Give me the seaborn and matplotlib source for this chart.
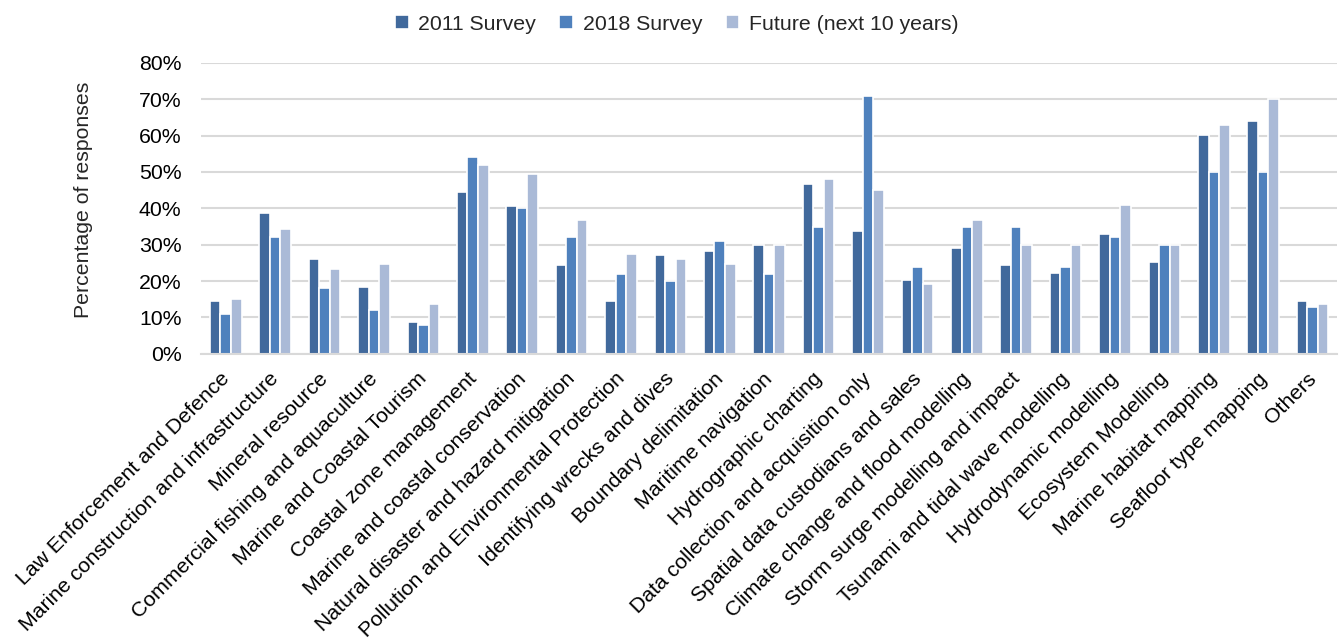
import numpy as np
import pandas as pd
import seaborn as sns
import matplotlib.pyplot as plt
import matplotlib.transforms as mtransforms
from matplotlib.ticker import PercentFormatter

categories = ['Law Enforcement and Defence', 'Marine construction and infrastructure',
              'Mineral resource', 'Commercial fishing and aquaculture',
              'Marine and Coastal Tourism', 'Coastal zone management',
              'Marine and coastal conservation', 'Natural disaster and hazard mitigation',
              'Pollution and Environmental Protection', 'Identifying wrecks and dives',
              'Boundary delimitation', 'Maritime navigation', 'Hydrographic charting',
              'Data collection and acquisition only', 'Spatial data custodians and sales',
              'Climate change and flood modelling', 'Storm surge modelling and impact',
              'Tsunami and tidal wave modelling', 'Hydrodynamic modelling',
              'Ecosystem Modelling', 'Marine habitat mapping', 'Seafloor type mapping',
              'Others']
survey_2011 = [14.5, 38.8, 26.2, 18.4, 8.7, 44.6, 40.7, 24.3, 14.5, 27.2, 28.2, 30.0,
               46.6, 33.9, 20.4, 29.1, 24.3, 22.3, 33.0, 25.2, 60.2, 64.0, 14.5]
survey_2018 = [11, 32, 18, 12, 8, 54, 40, 32, 22, 20, 31, 22,
               35, 71, 24, 35, 35, 24, 32, 30, 50, 50, 13]
future = [15.0, 34.2, 23.3, 24.6, 13.7, 52.0, 49.3, 36.9, 27.4, 26.0, 24.6, 30.0,
          48.0, 45.0, 19.2, 36.9, 30.0, 30.0, 41.0, 30.0, 63.0, 70.0, 13.7]
series = ['2011 Survey', '2018 Survey', 'Future (next 10 years)']
colors = ['#41699C', '#4F81BD', '#AABAD7']

df = pd.DataFrame({'category': categories, series[0]: survey_2011,
                   series[1]: survey_2018, series[2]: future})
df = df.melt(id_vars='category', var_name='series', value_name='pct')

sns.set_style('white')
plt.rcParams['font.family'] = ['Liberation Sans', 'DejaVu Sans']
fs = 15.3

fig, ax = plt.subplots(figsize=(13.4, 6.41), dpi=100)
fig.subplots_adjust(left=0.150, right=0.998, top=0.902, bottom=0.448)

sns.barplot(data=df, x='category', y='pct', hue='series', palette=colors,
            width=0.64, edgecolor='white', linewidth=1.2, saturation=1, ax=ax)

ax.set_ylim(0, 80)
ax.set_yticks(range(0, 81, 10))
ax.yaxis.set_major_formatter(PercentFormatter(decimals=0))
ax.set_xlim(-0.5, len(categories) - 0.5)
ax.yaxis.grid(True, color='#D9D9D9', linewidth=1.5)
ax.set_axisbelow(True)
for s in ['top', 'right', 'left']:
    ax.spines[s].set_visible(False)
ax.spines['bottom'].set_color('#D9D9D9')
ax.spines['bottom'].set_linewidth(1.5)
ax.tick_params(axis='both', length=0, labelsize=fs, colors='black')
ax.tick_params(axis='y', pad=14)
ax.tick_params(axis='x', pad=6)
# nudge the rotated labels a little left/down, like the original
shift = mtransforms.ScaledTranslation(-6 / 100, -7 / 100, fig.dpi_scale_trans)
for lab in ax.get_xticklabels():
    lab.set_rotation(45)
    lab.set_ha('right')
    lab.set_rotation_mode('anchor')
    lab.set_transform(lab.get_transform() + shift)
ax.set_xlabel('')
ax.set_ylabel('Percentage of responses', fontsize=fs)
ax.yaxis.set_label_coords(-0.095, 0.529)

handles, labels = ax.get_legend_handles_labels()
ax.get_legend().remove()
fig.legend(handles, labels, loc='center', bbox_to_anchor=(0.505, 0.962), ncol=3,
           frameon=False, fontsize=fs, handlelength=0.65, handleheight=0.65,
           handletextpad=0.45, columnspacing=1.1)

fig.savefig('out.png', dpi=100)
